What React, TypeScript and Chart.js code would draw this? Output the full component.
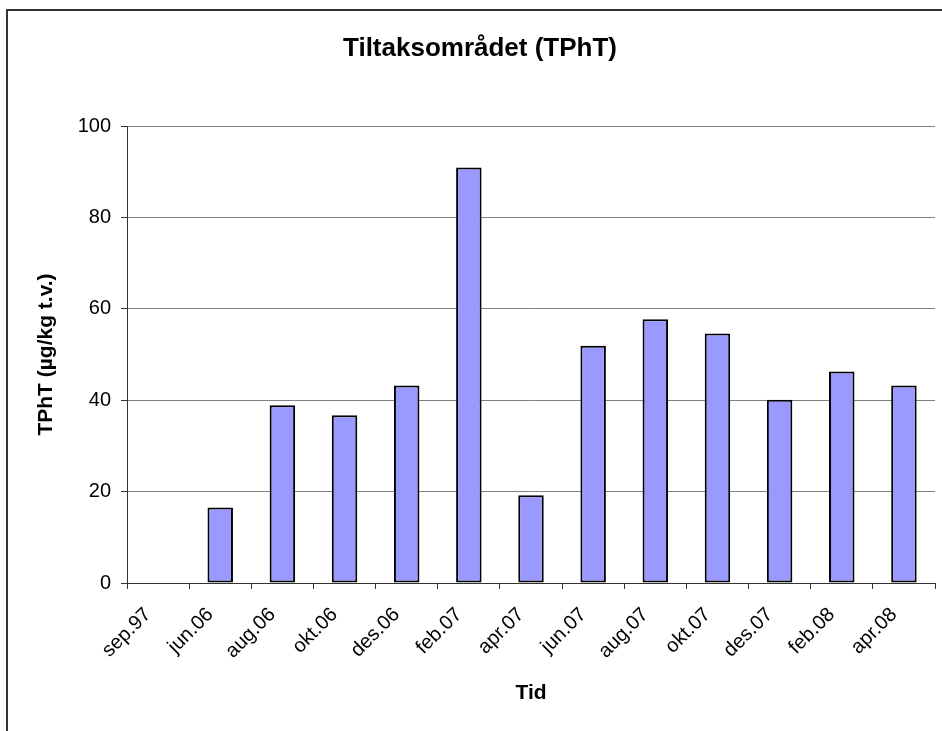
import React, { useEffect, useRef } from "react";
import { Chart, registerables } from "chart.js";

Chart.register(...registerables);

const chartTitle = "Tiltaksområdet (TPhT)";
const xAxisTitle = "Tid";
const yAxisTitle = "TPhT (µg/kg t.v.)";

const categories = [
  "sep.97", "jun.06", "aug.06", "okt.06", "des.06", "feb.07", "apr.07",
  "jun.07", "aug.07", "okt.07", "des.07", "feb.08", "apr.08",
];

const tphtValues: (number | null)[] = [
  null, 16.5, 38.9, 36.7, 43.2, 90.9, 19.2, 51.9, 57.7, 54.6, 40.1, 46.3, 43.2,
];

const yMin = 0;
const yMax = 100;
const yStep = 20;

const FONT = "Arial, 'Liberation Sans', sans-serif";

export default function App() {
  const canvasRef = useRef<HTMLCanvasElement | null>(null);

  useEffect(() => {
    const canvas = canvasRef.current;
    if (!canvas) return;
    const chart = new Chart(canvas, {
      type: "bar",
      data: {
        labels: categories,
        datasets: [
          {
            label: "TPhT",
            data: tphtValues,
            backgroundColor: "#9999FF",
            borderColor: "#000000",
            borderWidth: 2,
            borderSkipped: false,
            barPercentage: 0.41,
            categoryPercentage: 1,
          },
        ],
      },
      options: {
        responsive: false,
        animation: false,
        devicePixelRatio: 1,
        layout: { padding: { left: 25, right: 7, top: 0, bottom: 0 } },
        plugins: {
          legend: { display: false },
          tooltip: { enabled: false },
          title: {
            display: true,
            text: chartTitle,
            color: "#000",
            font: { family: FONT, size: 26, weight: "bold" },
            padding: { top: 33.5, bottom: 61.3 },
          },
        },
        scales: {
          x: {
            afterFit: (scale: any) => {
              scale.height = 148;
            },
            grid: {
              offset: true,
              drawOnChartArea: false,
              drawTicks: true,
              tickLength: 6,
              tickColor: "#333",
              color: "#333",
            },
            border: { display: true, color: "#333", width: 1 },
            ticks: {
              color: "#000",
              font: { family: FONT, size: 20 },
              minRotation: 45,
              maxRotation: 45,
              autoSkip: false,
              padding: 14,
              labelOffset: -10,
            },
            title: {
              display: true,
              text: xAxisTitle,
              color: "#000",
              font: { family: FONT, size: 21, weight: "bold" },
              padding: { top: 0, bottom: 25 },
            },
          },
          y: {
            min: yMin,
            max: yMax,
            afterFit: (scale: any) => {
              scale.width = 102;
            },
            grid: {
              color: "#808080",
              lineWidth: 1,
              drawTicks: true,
              tickLength: 6,
              tickColor: "#333",
            },
            border: { display: true, color: "#333", width: 1 },
            ticks: {
              stepSize: yStep,
              color: "#000",
              font: { family: FONT, size: 20 },
              padding: 10,
            },
            title: {
              display: true,
              text: yAxisTitle,
              color: "#000",
              font: { family: FONT, size: 21, weight: "bold" },
              padding: { top: 8.4, bottom: 0 },
            },
          },
        },
      },
    });
    return () => chart.destroy();
  }, []);

  return (
    <div
      style={{
        position: "fixed",
        left: 0,
        top: 0,
        width: 942,
        height: 731,
        background: "#fff",
        overflow: "hidden",
      }}
    >
      <canvas
        ref={canvasRef}
        width={942}
        height={731}
        style={{ position: "absolute", left: 0, top: 0, width: 942, height: 731 }}
      />
      <div
        style={{
          position: "absolute",
          left: 6,
          top: 9,
          width: 960,
          height: 760,
          borderLeft: "2px solid #333",
          borderTop: "2px solid #333",
          boxSizing: "border-box",
          pointerEvents: "none",
        }}
      />
    </div>
  );
}
